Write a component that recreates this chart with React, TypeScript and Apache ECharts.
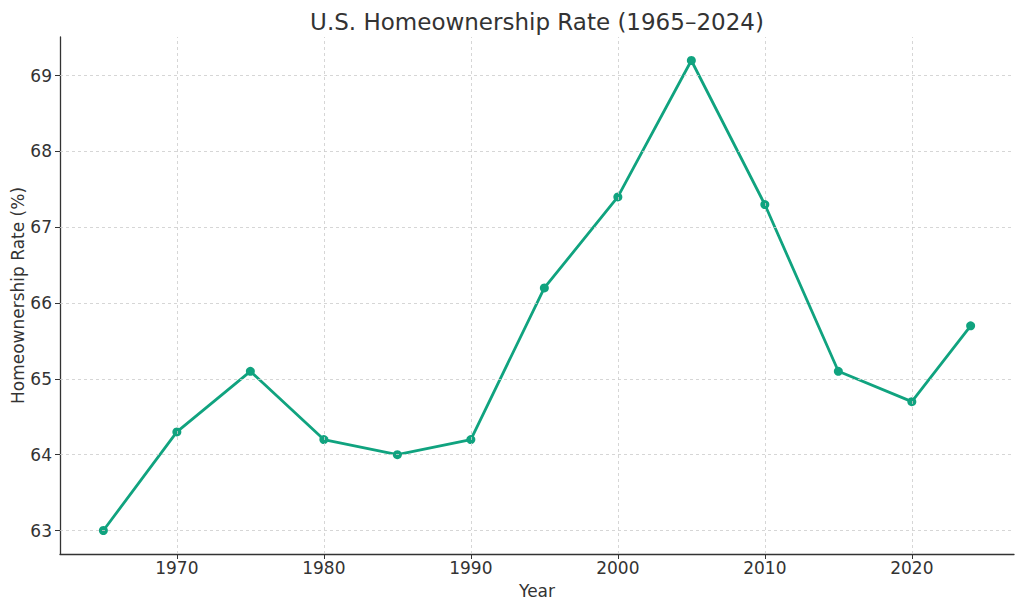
import React, { useEffect, useRef } from "react";
import * as echarts from "echarts";

const years = [1965, 1970, 1975, 1980, 1985, 1990, 1995, 2000, 2005, 2010, 2015, 2020, 2024];
const rates = [63.0, 64.3, 65.1, 64.2, 64.0, 64.2, 66.2, 67.4, 69.2, 67.3, 65.1, 64.7, 65.7];
const xTicks = [1970, 1980, 1990, 2000, 2010, 2020];
const yTicks = [63, 64, 65, 66, 67, 68, 69];

const FONT = "DejaVu Sans";
const GREEN = "#10a37f";

export default function App() {
  const ref = useRef<HTMLDivElement>(null);
  useEffect(() => {
    if (!ref.current) return;
    const chart = echarts.init(ref.current, null, { renderer: "svg" });
    const xMin = 1965 - 0.05 * (2024 - 1965);
    const xMax = 2024 + 0.05 * (2024 - 1965);
    const yLo = Math.min(...rates), yHi = Math.max(...rates);
    const yMin = yLo - 0.05 * (yHi - yLo);
    const yMax = yHi + 0.05 * (yHi - yLo);
    const gridStyle = { color: "#cccccc", width: 0.8, type: [3, 3] as any };
    chart.setOption({
      animation: false,
      backgroundColor: "#ffffff",
      textStyle: { fontFamily: FONT },
      title: {
        text: "U.S. Homeownership Rate (1965–2024)",
        left: 532,
        top: 5,
        textAlign: "center",
        textStyle: { fontFamily: FONT, fontSize: 23, fontWeight: "normal", color: "#333333" },
      },
      grid: { left: 60, right: 10, top: 37, bottom: 56, containLabel: false, outerBoundsMode: "none" },
      xAxis: {
        type: "value",
        min: xMin,
        max: xMax,
        name: "Year",
        nameLocation: "middle",
        nameGap: 28,
        nameMoveOverlap: false,
        nameTextStyle: { fontFamily: FONT, fontSize: 17, color: "#333333" },
        axisLine: { show: true, lineStyle: { color: "#333333", width: 1.3 } },
        axisTick: { show: true, customValues: xTicks, length: 5, inside: false, lineStyle: { color: "#333333", width: 1 } },
        axisLabel: {
          customValues: xTicks,
          formatter: (v: number) => String(Math.round(v)),
          fontFamily: FONT,
          fontSize: 17,
          color: "#333333",
          margin: 5,
        },
        splitLine: { show: false },
      },
      yAxis: {
        type: "value",
        min: yMin,
        max: yMax,
        name: "Homeownership Rate (%)",
        nameLocation: "middle",
        nameGap: 34,
        nameMoveOverlap: false,
        nameRotate: 90,
        nameTextStyle: { fontFamily: FONT, fontSize: 17, color: "#333333" },
        axisLine: { show: true, lineStyle: { color: "#333333", width: 1.3 } },
        axisTick: { show: true, customValues: yTicks, length: 5, inside: false, lineStyle: { color: "#333333", width: 1 } },
        axisLabel: {
          customValues: yTicks,
          formatter: (v: number) => String(Math.round(v)),
          fontFamily: FONT,
          fontSize: 17,
          color: "#333333",
          margin: 8,
        },
        splitLine: { show: false },
      },
      series: [
        {
          type: "line",
          data: [],
          silent: true,
          z: 1,
          markLine: {
            silent: true,
            symbol: "none",
            label: { show: false },
            lineStyle: gridStyle,
            animation: false,
            data: [
              ...xTicks.map((v) => ({ xAxis: v })),
              ...yTicks.map((v) => ({ yAxis: v })),
            ],
          },
        },
        {
          type: "line",
          z: 3,
          data: years.map((y, i) => [y, rates[i]]),
          symbol: "circle",
          symbolSize: 9,
          showSymbol: true,
          lineStyle: { color: GREEN, width: 2.8 },
          itemStyle: { color: GREEN },
        },
      ],
    });
    return () => chart.dispose();
  }, []);
  return <div ref={ref} style={{ width: 1024, height: 610, position: "absolute", left: 0, top: 0 }} />;
}
